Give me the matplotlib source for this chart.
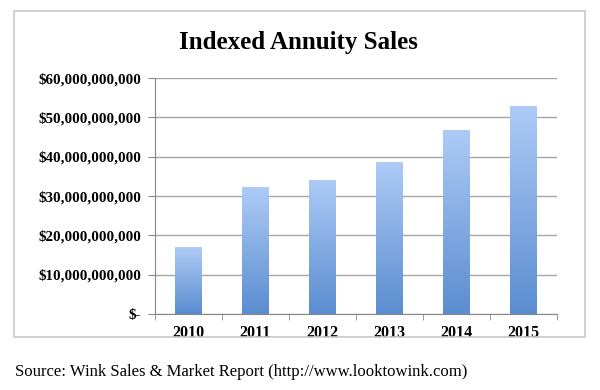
import matplotlib
matplotlib.use("Agg")
import matplotlib.pyplot as plt
import numpy as np
from matplotlib.colors import LinearSegmentedColormap
from matplotlib.patches import Rectangle

years = ["2010", "2011", "2012", "2013", "2014", "2015"]
sales = [17.0e9, 32.2e9, 34.1e9, 38.6e9, 46.8e9, 52.9e9]
yticks = [0, 10e9, 20e9, 30e9, 40e9, 50e9, 60e9]

plt.rcParams['font.family'] = ['Liberation Serif', 'DejaVu Serif']

fig = plt.figure(figsize=(6, 3.9), dpi=100)

# outer chart frame
fig.patches.append(Rectangle((14/600, 1-337/390), 571/600, 326/390, transform=fig.transFigure,
                             fill=False, edgecolor='#c8c8c8', linewidth=1.2))

ax = fig.add_axes([155/600, 1-314/390, 402/600, 236/390])
x = np.arange(len(years))
bars = ax.bar(x, sales, width=0.4, color='none', edgecolor='none', zorder=2)

cmap = LinearSegmentedColormap.from_list('g', ['#5a8dd0', '#aecbf6'])
grad = np.linspace(0, 1, 256).reshape(-1, 1)
for b in bars:
    x0, w, h = b.get_x(), b.get_width(), b.get_height()
    im = ax.imshow(grad, extent=[x0, x0 + w, 0, h], origin='lower', aspect='auto',
                   cmap=cmap, zorder=2)
    im.set_clip_path(b)

ax.set_xlim(-0.5, 5.5)
ax.set_ylim(0, 60e9)
ax.set_yticks(yticks)
ax.set_yticklabels(["$-" if v == 0 else "${:,.0f}".format(v) for v in yticks],
                   fontsize=10.8, fontweight='bold')
ax.set_xticks(x)
ax.set_xticklabels(years, fontsize=11.5, fontweight='bold')
ax.set_xticks(np.arange(-0.5, 6, 1), minor=True)
ax.tick_params(axis='x', which='major', length=0, pad=8)
ax.tick_params(axis='x', which='minor', length=4, color='#888888')
ax.tick_params(axis='y', length=5, color='#888888', pad=5)

ax.grid(axis='y', color='#a6a6a6', linewidth=1, zorder=0)
ax.set_axisbelow(True)
for s in ['top', 'right']:
    ax.spines[s].set_visible(False)
ax.spines['left'].set_color('#888888')
ax.spines['bottom'].set_color('#888888')

fig.text(298/600, 1-42/390, "Indexed Annuity Sales", ha='center', va='center',
         fontsize=18, fontweight='bold')
fig.text(15/600, 1-372/390, "Source: Wink Sales & Market Report (http://www.looktowink.com)",
         ha='left', va='center', fontsize=12)

fig.savefig("out.png", dpi=100)
